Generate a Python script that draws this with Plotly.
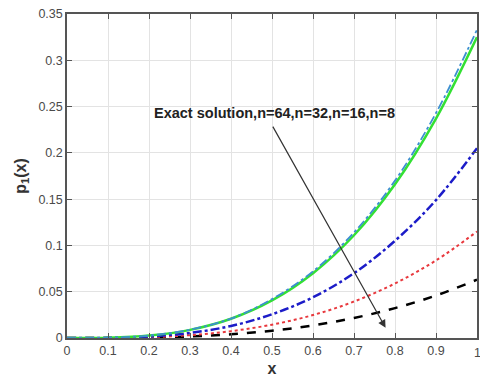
import plotly.graph_objects as go

x = [0.0, 0.1, 0.2, 0.3, 0.4, 0.5, 0.6, 0.7, 0.8, 0.9, 1.0]
exact = [0.0, 0.0003, 0.0027, 0.009, 0.021, 0.042, 0.072, 0.114, 0.170, 0.243, 0.333]
n64 = [0.0, 0.0003, 0.0026, 0.0088, 0.0208, 0.0406, 0.070, 0.111, 0.166, 0.237, 0.325]
n32 = [0.0, 0.0002, 0.0016, 0.0055, 0.013, 0.0256, 0.044, 0.070, 0.105, 0.149, 0.205]
n16 = [0.0, 0.0001, 0.0009, 0.0031, 0.0074, 0.0144, 0.0248, 0.0394, 0.0589, 0.0838, 0.115]
n8 = [0.0, 0.0001, 0.0005, 0.0017, 0.0040, 0.0079, 0.0136, 0.0216, 0.0323, 0.0459, 0.063]

xticks = [0, 0.1, 0.2, 0.3, 0.4, 0.5, 0.6, 0.7, 0.8, 0.9, 1]
xticklabels = ["0", "0.1", "0.2", "0.3", "0.4", "0.5", "0.6", "0.7", "0.8", "0.9", "1"]
yticks = [0, 0.05, 0.1, 0.15, 0.2, 0.25, 0.3, 0.35]
yticklabels = ["0", "0.05", "0.1", "0.15", "0.2", "0.25", "0.3", "0.35"]
note = "Exact solution,n=64,n=32,n=16,n=8"

FONT = "Liberation Sans, Arial"
tickfont = dict(family=FONT, size=12.5, color="#4a4a4a")

fig = go.Figure()
fig.add_trace(go.Scatter(x=x, y=n8, mode="lines", line=dict(color="black", width=2.5, dash="dash", shape="spline")))
fig.add_trace(go.Scatter(x=x, y=n16, mode="lines", line=dict(color="#e8383d", width=2, dash="dot", shape="spline")))
fig.add_trace(go.Scatter(x=x, y=n32, mode="lines", line=dict(color="#1c1cc8", width=2.5, dash="dashdot", shape="spline")))
fig.add_trace(go.Scatter(x=x, y=n64, mode="lines", line=dict(color="#33e033", width=2.5, shape="spline")))
fig.add_trace(go.Scatter(x=x, y=exact, mode="lines", line=dict(color="#3d8fd0", width=1.8, dash="dashdot", shape="spline")))

fig.add_annotation(x=0.777, y=0.011, ax=0.5, ay=0.23, xref="x", yref="y", axref="x", ayref="y",
                   text="", showarrow=True, arrowhead=2, arrowsize=1.3, arrowwidth=1.2, arrowcolor="#333333")
fig.add_annotation(x=0.505, y=0.243, xref="x", yref="y", text="<b>" + note + "</b>", showarrow=False,
                   font=dict(family=FONT, size=14.5, color="#222222"))

# last x tick label, which sits at the figure's right edge
fig.add_annotation(x=xticks[-1], y=0, xref="x", yref="paper", yanchor="top", yshift=-6,
                   text=xticklabels[-1], showarrow=False, font=tickfont)

axis_common = dict(showline=True, linecolor="#555555", linewidth=1.5, mirror="ticks", ticks="inside",
                   ticklen=5, tickcolor="#555555", showgrid=True, gridcolor="#e3e3e3", gridwidth=1,
                   zeroline=False, tickfont=tickfont)
fig.update_xaxes(range=[0, 1], tickvals=xticks[:-1], ticktext=xticklabels[:-1],
                 title=dict(text="<b>x</b>", font=dict(family=FONT, size=16, color="#333333"), standoff=6),
                 **axis_common)
fig.update_yaxes(range=[0, 0.35], tickvals=yticks, ticktext=yticklabels,
                 title=dict(text="<b>p<sub>1</sub>(x)</b>", font=dict(family=FONT, size=16, color="#333333"), standoff=8),
                 **axis_common)
fig.update_layout(width=480, height=383, margin=dict(l=67, r=1, t=14, b=45), showlegend=False,
                  plot_bgcolor="white", paper_bgcolor="white")
fig.write_html("out.html")
